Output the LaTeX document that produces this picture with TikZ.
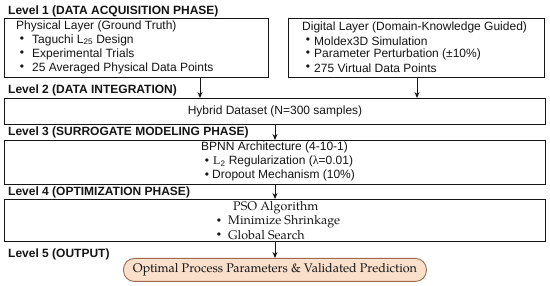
\documentclass[tikz,border=0pt]{standalone}
\usepackage{fontspec}
\setmainfont{Liberation Sans}
\newfontfamily\pal{texgyrepagella-regular.otf}
\newfontfamily\lserif{Liberation Serif}
\usetikzlibrary{arrows.meta}
\definecolor{ink}{HTML}{151515}
\definecolor{peach}{HTML}{FADFCB}
\definecolor{peachline}{HTML}{9C6A4C}
\begin{document}
\begin{tikzpicture}[x=1pt,y=-1pt,
  lvl/.style={font=\bfseries\fontsize{12}{12}\selectfont, anchor=west, inner sep=0pt, text=ink},
  txt/.style={font=\fontsize{12}{12}\selectfont, anchor=west, inner sep=0pt, text=ink},
  ctxt/.style={font=\fontsize{12}{12}\selectfont, inner sep=0pt, text=ink},
  ptxt/.style={font=\pal\fontsize{12.5}{12}\selectfont, anchor=west, inner sep=0pt, text=ink},
  bul/.style={font=\fontsize{12}{12}\selectfont, inner sep=0pt, text=ink},
  frame/.style={draw=ink, line width=0.9pt, inner sep=0pt, anchor=north west},
  arr/.style={draw=ink, line width=0.9pt, -{Stealth[length=6pt,width=5pt]}},
  outbox/.style={draw=peachline, fill=peach, line width=0.9pt, rounded corners=11pt, inner sep=0pt, anchor=north west}
]
\useasboundingbox[fill=white] (0,0) rectangle (550,286);

% Level 1
\node[lvl] (l1) at (8,11) {Level 1 (DATA ACQUISITION PHASE)};
\node[frame, minimum width=264pt, minimum height=59pt] (phys) at (4,18) {};
\node[txt] (p0) at (16,26) {Physical Layer (Ground Truth)};
\node[bul] (pb1) at (22,40) {•};
\node[txt] (p1) at (32,40) {Taguchi L\textsubscript{25} Design};
\node[bul] (pb2) at (22,54) {•};
\node[txt] (p2) at (32,54) {Experimental Trials};
\node[bul] (pb3) at (22,68) {•};
\node[txt] (p3) at (32,68) {25 Averaged Physical Data Points};

\node[frame, minimum width=256pt, minimum height=59pt] (dig) at (288,18) {};
\node[txt] (d0) at (302,27) {Digital Layer (Domain-Knowledge Guided)};
\node[bul] (db1) at (308,41) {•};
\node[txt] (d1) at (314,41) {Moldex3D Simulation};
\node[bul] (db2) at (308,54) {•};
\node[txt] (d2) at (314,54) {Parameter Perturbation (±10\%)};
\node[bul] (db3) at (308,68) {•};
\node[txt] (d3) at (314,68) {275 Virtual Data Points};

% Level 2
\node[lvl] (l2) at (8,90) {Level 2 (DATA INTEGRATION)};
\node[frame, minimum width=541pt, minimum height=26pt] (hyb) at (4,98) {};
\node[ctxt] (h0) at (275,111) {Hybrid Dataset (N=300 samples)};

% Level 3
\node[lvl] (l3) at (8,132) {Level 3 (SURROGATE MODELING PHASE)};
\node[frame, minimum width=541pt, minimum height=44pt] (bpnn) at (4,140) {};
\node[txt] (b0) at (201,147.5) {BPNN Architecture (4-10-1)};
\node[bul] (bb1) at (207,161.5) {•};
\node[txt] (b1) at (213,161.5) {{\lserif L}\textsubscript{2} Regularization ({\lserif λ}=0.01)};
\node[bul] (bb2) at (207,175.5) {•};
\node[txt] (b2) at (212,175.5) {Dropout Mechanism (10\%)};

% Level 4
\node[lvl] (l4) at (8,192) {Level 4 (OPTIMIZATION PHASE)};
\node[frame, minimum width=541pt, minimum height=42pt] (pso) at (4,199) {};
\node[ptxt] (s0) at (233,208) {PSO Algorithm};
\node[bul] (sb1) at (219,222) {•};
\node[ptxt] (s1) at (228,222) {Minimize Shrinkage};
\node[bul] (sb2) at (219,235.5) {•};
\node[ptxt] (s2) at (228,235.5) {Global Search};

% Level 5
\node[lvl] (l5) at (8,254) {Level 5 (OUTPUT)};
\node[outbox, minimum width=303pt, minimum height=23pt] (out) at (123,258) {};
\node[ctxt, font=\pal\fontsize{12.5}{12}\selectfont] (o0) at (out.center) {Optimal Process Parameters \& Validated Prediction};

% arrows
\coordinate (ax1) at (200,0);
\coordinate (ax2) at (417,0);
\coordinate (axc) at (275,0);
\draw[arr] (phys.south -| ax1) -- (hyb.north -| ax1);
\draw[arr] (dig.south -| ax2) -- (hyb.north -| ax2);
\draw[arr] (hyb.south -| axc) -- (bpnn.north -| axc);
\draw[arr] (bpnn.south -| axc) -- (pso.north -| axc);
\draw[arr] (pso.south -| axc) -- (out.north -| axc);
\end{tikzpicture}
\end{document}
